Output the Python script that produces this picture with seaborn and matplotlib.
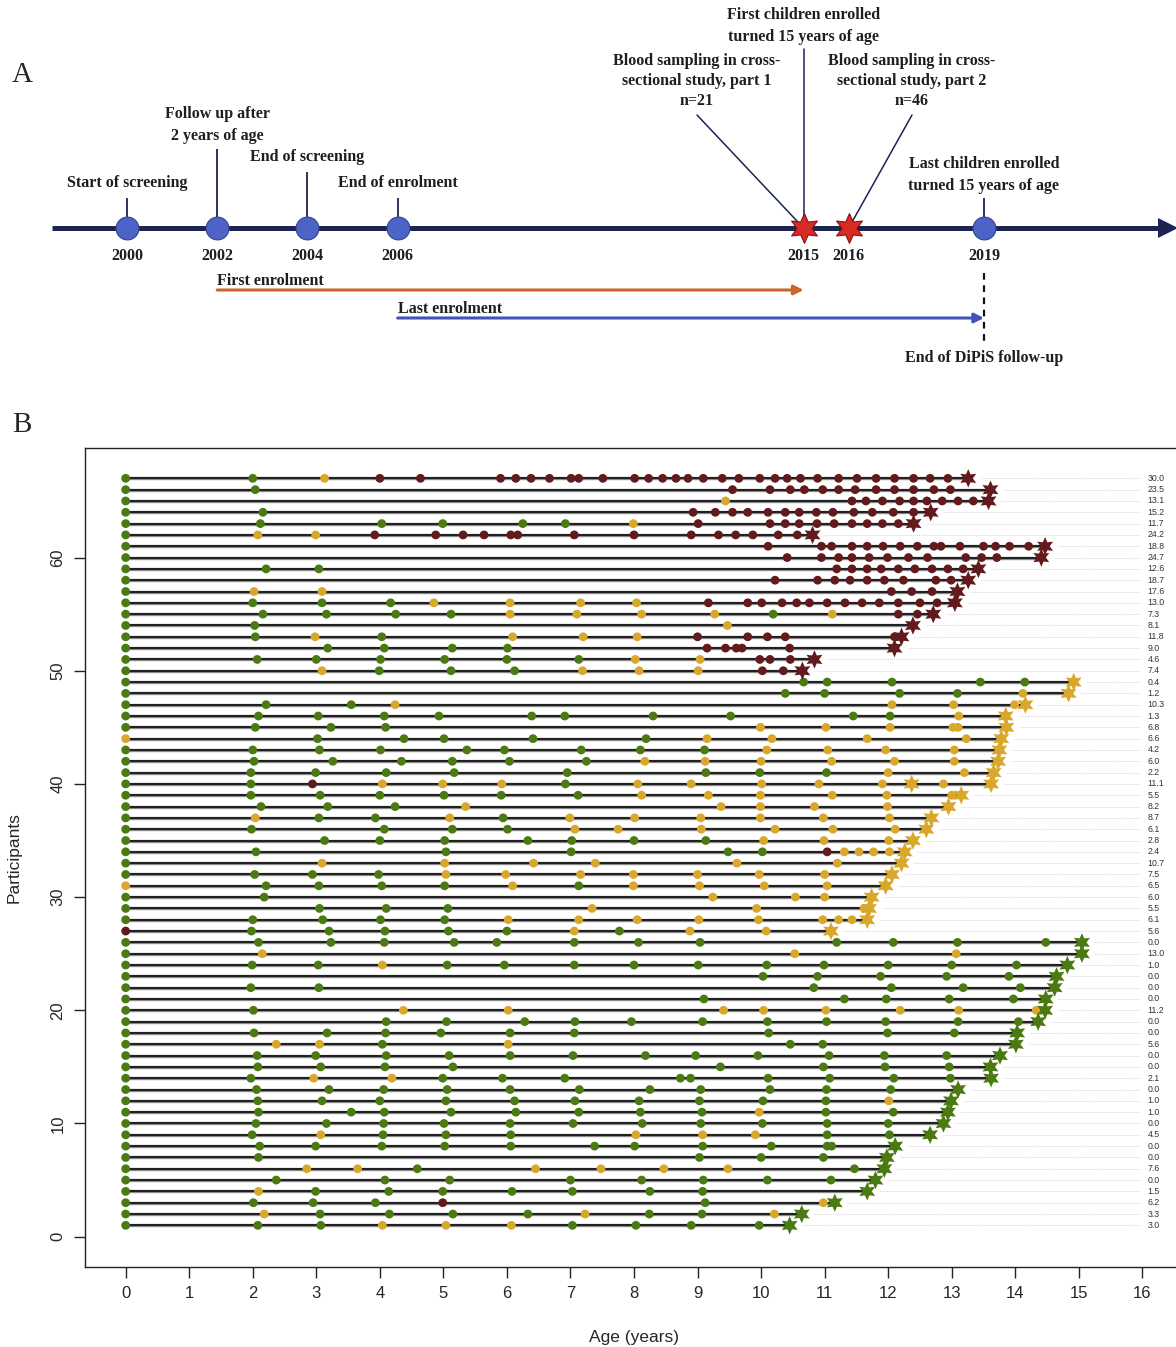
import matplotlib
matplotlib.use("Agg")
import numpy as np
import pandas as pd
import matplotlib.pyplot as plt
import seaborn as sns

# ---------------- panel A data ----------------
event_years = [2000, 2002, 2004, 2006, 2019]
event_labels = ["Start of screening", "Follow up after\n2 years of age", "End of screening",
                "End of enrolment", "Last children enrolled\nturned 15 years of age"]
sampling_years = [2015, 2016]
sampling_labels = ["Blood sampling in cross-\nsectional study, part 1\nn=21",
                   "Blood sampling in cross-\nsectional study, part 2\nn=46"]
turned15_first = 2015
enrol_first = (2002, 2015)
enrol_last = (2006, 2019)
followup_end = 2019

# ---------------- panel B data ----------------
# one string per participant (top row 67 -> bottom row 1); "age+status", g=negative, y=one, r=multiple
visits = [
    "0g 2.0g 3.13y 4.0r 4.64r 5.9r 6.14r 6.38r 6.67r 7.01r 7.13r 7.51r 8.01r 8.23r 8.45r 8.66r 8.85r 9.09r 9.39r 9.65r 9.98r 10.22r 10.41r 10.62r 10.89r 11.22r 11.51r 11.81r 12.1r 12.4r 12.66r 12.94r",
    "0g 2.04g 9.55r 10.14r 10.46r 10.68r 10.97r 11.22r 11.48r 11.81r 12.1r 12.4r 12.72r 12.98r",
    "0g 9.44y 11.43r 11.65r 11.91r 12.18r 12.4r 12.61r 12.85r 13.1r 13.34r",
    "0g 2.16g 8.93r 9.28r 9.55r 9.79r 10.11r 10.38r 10.6r 10.87r 11.13r 11.46r 11.75r 12.08r 12.4r",
    "0g 2.12g 4.03g 4.99g 6.25g 6.92g 7.99y 9.01r 10.14r 10.38r 10.6r 10.88r 11.15r 11.43r 11.67r 11.91r 12.16r",
    "0g 2.08y 2.99y 3.92r 4.88r 5.31r 5.64r 6.06r 6.17r 7.06r 8.0r 8.9r 9.33r 9.6r 9.87r 10.27r 10.57r",
    "0g 10.11r 10.95r 11.11r 11.43r 11.67r 11.92r 12.19r 12.46r 12.72r 12.83r 13.13r 13.5r 13.69r 13.91r 14.21r",
    "0g 10.41r 10.95r 11.22r 11.43r 11.7r 11.99r 12.32r 12.62r 13.22r 13.47r 13.71r",
    "0g 2.21g 3.04g 11.19r 11.43r 11.67r 11.89r 12.16r 12.42r 12.69r 12.94r 13.18r",
    "0g 10.22r 10.89r 11.16r 11.4r 11.67r 11.94r 12.24r 12.75r 12.99r",
    "0g 2.02y 3.09y 12.05r 12.37r 12.69r",
    "0g 2.0g 3.09g 4.17g 4.85y 6.05y 7.16y 8.04y 9.17r 9.79r 10.01r 10.33r 10.56r 10.76r 11.04r 11.32r 11.59r 11.86r 12.16r 12.5r 12.77r",
    "0g 2.16g 3.16g 4.25g 5.12g 6.05y 7.1y 8.12y 9.27y 10.19g 11.12y 12.16r 12.46r",
    "0g 2.03g 9.47y",
    "0g 2.04g 2.98y 4.03g 6.09y 7.2y 8.05y 9.0r 9.79r 10.1r 10.38r 12.1r",
    "0g 3.18g 4.07g 5.14g 6.01g 9.15r 9.44r 9.61r 9.7r 10.45r",
    "0g 2.07g 3.0g 4.01g 5.02g 6.0g 7.13g 8.02y 9.04y 9.98r 10.14r 10.46r",
    "0g 3.09y 3.99g 5.12g 6.12g 7.19y 8.08y 9.01y 10.02r 10.35r",
    "0g 10.67g 11.04g 12.06g 13.45g 14.15g",
    "0g 10.38g 11.0g 12.18g 13.09g 14.12y",
    "0g 2.21g 3.55g 4.24y 12.06y 13.03y 13.99y",
    "0g 2.09g 3.03g 4.07g 4.93g 6.39g 6.91g 8.3g 9.52g 11.45g 12.03g 13.11y",
    "0g 2.04g 3.23g 4.09g 9.99y 11.02y 12.03y 13.02y 13.1y",
    "0y 3.02g 4.38g 5.01g 6.41g 8.19g 9.15y 10.17y 11.67y 13.23y",
    "0g 2.0g 3.05g 4.01g 5.37g 5.96g 7.17g 8.1g 9.11g 10.09y 11.05y 11.96y 13.04y",
    "0g 2.02g 3.26g 4.34g 5.14g 6.04g 7.25g 8.17y 9.12y 10.0y 11.11y 12.1y 13.04y",
    "0g 1.97g 2.99g 4.1g 5.17g 6.95g 9.13g 9.98g 11.03g 12.0y 13.2y",
    "0g 1.97g 2.94r 4.04y 4.99y 5.92y 6.92g 8.06y 8.9y 10.01y 10.91y 11.91y 12.87y",
    "0g 1.97g 3.06g 4.0g 5.01g 5.91g 7.12g 8.12y 9.17y 9.99y 11.12y 11.98y 13.0y",
    "0g 2.13g 3.18g 4.24g 5.35y 9.37y 9.99y 10.84y 11.99y",
    "0g 2.04y 3.04g 3.93g 5.1y 5.94g 6.99y 8.01y 9.05y 9.99y 10.98y 12.02y",
    "0g 1.98g 4.07g 5.14g 6.01g 7.07y 7.75y 9.06y 10.22y 11.13y 12.11y",
    "0g 3.13g 4.0g 5.02g 6.33g 7.02g 8.0g 9.13g 10.04y 10.99y 12.01y",
    "0g 2.05g 5.04g 7.01g 9.48g 10.02g 11.04r 11.31y 11.54y 11.77y 12.02y",
    "0g 3.09y 5.02y 6.42y 7.39y 9.62y 11.2y",
    "0g 2.03g 2.94g 3.98g 5.04y 5.98y 7.16y 7.99y 9.0y 9.97y 11.0y",
    "0y 2.21g 3.04g 4.03g 5.02g 6.09y 7.13g 7.99y 9.03y 10.05y 11.04y",
    "0g 2.18g 9.24y 10.54y 11.0y",
    "0g 3.05g 4.1g 5.07g 7.34y 9.93y 11.62y",
    "0g 2.0g 3.1g 4.01g 5.02g 6.02y 7.13y 8.05y 9.02y 9.96y 10.97y 11.22y 11.43y",
    "0r 1.98g 3.2g 4.08g 5.08g 6.0g 7.06y 7.77g 8.88y 10.08y",
    "0g 2.09g 3.23g 4.07g 5.17g 5.84g 7.06g 8.07g 9.04g 11.19g 12.08g 13.09g 14.48g",
    "0g 2.15y 10.53y 13.07y",
    "0g 1.99g 3.03g 4.04y 5.06g 5.96g 7.06g 8.0g 9.01g 10.09g 10.99g 12.0g 13.0g 14.02g",
    "0g 10.03g 10.89g 11.88g 12.92g 13.9g",
    "0g 1.97g 3.04g 10.83g 12.05g 13.18g 14.08g",
    "0g 9.1g 11.31g 11.97g 12.96g 13.97g",
    "0g 2.01g 4.37y 6.02y 9.41y 10.04y 11.02y 12.19y 13.11y 14.33y",
    "0g 4.1g 5.05g 6.28g 7.07g 7.96g 9.08g 10.1g 11.03g 11.96g 13.1g 14.05g",
    "0g 2.02g 3.17g 4.09g 4.96g 6.05g 7.06g 10.12g 11.99g 13.04g",
    "0g 2.37y 3.05y 4.04g 6.02y 10.46g 10.97g",
    "0g 2.07g 2.99g 4.1g 5.09g 6.05g 7.04g 8.18g 8.97g 9.95g 11.07g 11.94g 12.92g",
    "0g 2.08g 3.07g 4.08g 5.15g 9.36g 10.98g 11.95g 12.96g",
    "0g 1.97g 2.96y 4.19y 4.99g 5.93g 6.91g 8.73g 8.89g 10.11g 11.08g 12.09g 12.98g",
    "0g 2.06g 3.2g 4.06g 5.06g 6.05g 7.14g 8.25g 9.05g 10.14g 11.03g 12.04g",
    "0g 2.08g 3.09g 4.0g 5.04g 6.12g 7.07g 8.08g 9.03g 10.03g 11.02g 12.01y",
    "0g 2.09g 3.55g 4.07g 5.12g 6.14g 7.13g 8.1g 9.07g 9.97y 11.02g 12.08g",
    "0g 2.05g 3.16g 4.06g 5.01g 6.05g 7.04g 8.13g 9.05g 10.02g 11.04g 12.0g",
    "0g 1.99g 3.07y 4.05g 5.04g 6.06g 8.03y 9.08y 9.91y 11.04g 12.02g",
    "0g 2.11g 2.99g 4.03g 5.02g 6.06g 7.38g 8.01g 9.08g 10.16g 11.04g 11.11g",
    "0g 2.09g 9.03g 10.0g 10.98g",
    "0g 2.85y 3.65y 4.59g 6.45y 7.48y 8.47y 9.48y 11.47g",
    "0g 2.37g 4.08g 5.1g 7.0g 8.12g 9.09g 10.1g 11.1g",
    "0g 2.09y 2.99g 4.14g 4.99g 6.08g 7.03g 8.25g 9.08g",
    "0g 2.01g 2.95g 3.93g 4.99r 9.12g 10.98y",
    "0g 2.18y 3.06g 4.15g 5.15g 6.33g 7.23y 8.24g 9.07g 10.21y",
    "0g 2.08g 3.07g 4.04y 5.04y 6.07y 7.03g 8.03g 8.9g 9.97g",
]
end_age = [13.26, 13.61, 13.58, 12.67, 12.40, 10.81, 14.47, 14.41, 13.42, 13.26,
           13.09, 13.05, 12.71, 12.39, 12.21, 12.10, 10.84, 10.65,
           14.92, 14.84, 14.16, 13.85, 13.86, 13.78, 13.75, 13.73, 13.66, 13.62,
           13.15, 12.95, 12.68, 12.60, 12.39, 12.26, 12.21, 12.06, 11.96, 11.74,
           11.70, 11.67, 11.10,
           15.05, 15.05, 14.82, 14.65, 14.62, 14.48, 14.47, 14.36, 14.03, 14.01,
           13.76, 13.61, 13.62, 13.10, 12.99, 12.94, 12.87, 12.66, 12.11, 11.98,
           11.94, 11.80, 11.67, 11.16, 10.64, 10.45]
end_status = list("rrrrrrrrrrrrrrrrrr" "yyyyyyyyyyyyyyyyyyyyyyy" "gggggggggggggggggggggggggg")
right_value = [30.0, 23.5, 13.1, 15.2, 11.7, 24.2, 18.8, 24.7, 12.6, 18.7, 17.6, 13.0, 7.3, 8.1,
               11.8, 9.0, 4.6, 7.4,
               0.4, 1.2, 10.3, 1.3, 6.8, 6.6, 4.2, 6.0, 2.2, 11.1, 5.5, 8.2, 8.7, 6.1, 2.8, 2.4,
               10.7, 7.5, 6.5, 6.0, 5.5, 6.1, 5.6,
               0.0, 13.0, 1.0, 0.0, 0.0, 0.0, 11.2, 0.0, 0.0, 5.6, 0.0, 0.0, 2.1, 0.0, 1.0, 1.0,
               0.0, 4.5, 0.0, 0.0, 7.6, 0.0, 1.5, 6.2, 3.3, 3.0]
extra_star_row = [40]
extra_star_age = [12.37]
extra_star_status = ["y"]

status_colors = {"g": "#4b7a12", "y": "#d9a72b", "r": "#631a1c"}

n_rows = len(visits)
participant = [n_rows - i for i in range(n_rows)]

recs = []
for p, s in zip(participant, visits):
    for tok in s.split():
        recs.append((p, float(tok[:-1]), tok[-1]))
dots = pd.DataFrame(recs, columns=["participant", "age", "status"])
ends = pd.DataFrame({"participant": participant + extra_star_row,
                     "age": end_age + extra_star_age,
                     "status": end_status + extra_star_status})

# ---------------- figure ----------------
sns.set_style("ticks")
plt.rcParams["font.family"] = ["Liberation Sans", "DejaVu Sans"]

W, H = 1176, 1347
fig = plt.figure(figsize=(W / 100, H / 100), dpi=100)

# ===== panel A =====
axA = fig.add_axes([0, 1 - 390 / H, 1, 390 / H])
ppy = (984 - 127) / 19.0  # pixels per year on the timeline


def yr(px):
    return 2000 + (px - 127) / ppy


axA.set_xlim(yr(0), yr(W))
axA.set_ylim(390, 0)
axA.axis("off")

navy = "#1b2453"
serif = ["Liberation Serif", "DejaVu Serif"]
tb = dict(family=serif, fontweight="bold", fontsize=11.5, color="#1e1e1e",
          ha="center", va="center", linespacing=1.45)
axis_y = 228

axA.text(yr(22), 75, "A", family=serif, fontsize=21, ha="center", va="center")
axA.plot([yr(52), yr(1162)], [axis_y, axis_y], color=navy, lw=3.6,
         solid_capstyle="butt", zorder=1)
axA.plot([yr(1168)], [axis_y], marker=">", ms=15, color=navy, mew=0, zorder=1)

label_y = [183, 125, 157, 183, 175]
stem_top = [198, 149, 172, 198, 198]
axA.vlines(event_years, stem_top, axis_y - 10, color=navy, lw=1.3, zorder=1)
axA.scatter(event_years, [axis_y] * len(event_years), s=270, c="#4e63c6",
            edgecolors="#34448f", linewidths=0.8, zorder=3)
for yv, lab, ly in zip(event_years, event_labels, label_y):
    axA.text(yv, ly, lab, **tb)
for yv in event_years + sampling_years:
    axA.text(yv, 256, str(yv), **tb)

# lines to the blood sampling stars
axA.plot([turned15_first, turned15_first], [49, axis_y], color=navy, lw=1.1, zorder=1)
axA.text(turned15_first, 26, "First children enrolled\nturned 15 years of age", **tb)
samp_lab_x = [yr(697), yr(912)]
for sy, lab, lx in zip(sampling_years, sampling_labels, samp_lab_x):
    axA.plot([lx, sy], [115, axis_y], color=navy, lw=1.1, zorder=1)
    axA.text(lx, 81, lab, **{**tb, "linespacing": 1.3})
axA.scatter(sampling_years, [axis_y] * 2, s=460, marker=(6, 1, 0), c="#d82b23",
            edgecolors="#8c1010", linewidths=0.8, zorder=4)

# enrolment arrows
axA.annotate("", xy=(enrol_first[1], 290), xytext=(enrol_first[0], 290),
             arrowprops=dict(arrowstyle="-|>", color="#c8662b", lw=2.2, mutation_scale=14,
                             shrinkA=0, shrinkB=0))
axA.text(enrol_first[0], 281, "First enrolment", **{**tb, "ha": "left"})
axA.annotate("", xy=(enrol_last[1], 318), xytext=(enrol_last[0], 318),
             arrowprops=dict(arrowstyle="-|>", color="#3f54b6", lw=2.2, mutation_scale=14,
                             shrinkA=0, shrinkB=0))
axA.text(enrol_last[0], 309, "Last enrolment", **{**tb, "ha": "left"})
axA.plot([followup_end, followup_end], [273, 342], color="#111111", lw=1.6,
         linestyle=(0, (3, 2.5)))
axA.text(followup_end, 358, "End of DiPiS follow-up", **tb)

# ===== panel B =====
axB = fig.add_axes([85 / W, 1 - 1267 / H, (1183 - 85) / W, (1267 - 448) / H])
axB.set_xlim(-0.64, 16.64)
axB.set_ylim(-2.68, 69.68)

# follow-up lines and dotted connectors to the values
axB.hlines(participant, 0, end_age, color="#8a8a8a", lw=2.4, zorder=1)
axB.hlines(participant, 0, end_age, color="#0d0d0d", lw=1.2, zorder=2)
axB.hlines(participant, np.array(end_age) + 0.2, 15.97, color="#c4c4c4", lw=0.6,
           linestyles=(0, (1, 1.5)), zorder=1)

sns.scatterplot(data=dots, x="age", y="participant", hue="status", palette=status_colors,
                s=40, linewidth=0, legend=False, ax=axB, zorder=3)
sns.scatterplot(data=ends, x="age", y="participant", hue="status", palette=status_colors,
                marker=(6, 1, 0), s=175, linewidth=0, legend=False, ax=axB, zorder=4)

for p, v in zip(participant, right_value):
    axB.text(16.08, p, f"{v:.1f}", fontsize=6.3, color="#333333", va="center", ha="left")

axB.set_xticks(range(0, 17))
axB.set_yticks(range(0, 61, 10))
axB.tick_params(axis="both", length=8, width=1, labelsize=12, pad=6, color="#222222")
for t in axB.get_yticklabels():
    t.set_rotation(90)
    t.set_va("center")
for sp in axB.spines.values():
    sp.set_visible(True)
    sp.set_linewidth(1)
    sp.set_color("#222222")
axB.set_xlabel("Age (years)", fontsize=12.5, va="center")
axB.set_ylabel("Participants", fontsize=12.5, va="center")
axB.xaxis.set_label_coords(0.5, -0.0855)
axB.yaxis.set_label_coords(-0.0647, 0.5)

fig.text(22 / W, 1 - 425 / H, "B", family=serif, fontsize=21, ha="center", va="center")

fig.savefig("out.png", dpi=100)
